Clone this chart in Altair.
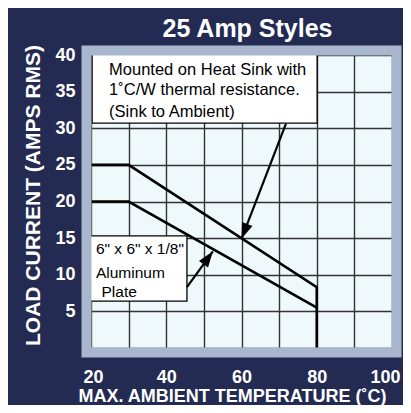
import altair as alt
import pandas as pd

# ---- data ----
hs_temp = [20, 30, 80, 80]
hs_amps = [25, 25, 8.3, 0]
pl_temp = [20, 30, 80]
pl_amps = [20, 20, 5.5]

x_ticks = [20, 30, 40, 50, 60, 70, 80, 90, 100]
y_ticks = [0, 5, 10, 15, 20, 25, 30, 35, 40]

note1_lines = ["Mounted on  Heat Sink with", "1˚C/W thermal resistance.", "(Sink to Ambient)"]
note2_lines = ["6\" x 6\" x 1/8\"", "Aluminum", " Plate"]

# annotation geometry in data units
note1_box = {"x": 20.3, "x2": 80.1, "y": 30.7, "y2": 40.1}
note2_box = {"x": 19.8, "x2": 45.5, "y": 6.4, "y2": 15.3}
note1_text_x = [24.8, 24.8, 24.8]
note1_text_y = [37.3, 34.55, 31.55]
note2_text_x = [21.3, 21.3, 22.8]
note2_text_y = [12.85, 9.6, 7.0]
arrow_x = [71.8, 45.5]
arrow_y = [30.6, 8.3]
arrow_tip_x = [60.0, 52.4]
arrow_tip_y = [14.9, 13.2]
arrow_angle = [201, 36]

FONT = "Arial, Liberation Sans, Helvetica, sans-serif"
W, H = 301, 293

curves = pd.DataFrame(
    [{"series": "heatsink", "o": i, "t": t, "a": a} for i, (t, a) in enumerate(zip(hs_temp, hs_amps))]
    + [{"series": "plate", "o": i, "t": t, "a": a} for i, (t, a) in enumerate(zip(pl_temp, pl_amps))]
)

xscale = alt.Scale(domain=[20, 100], nice=False, zero=False)
yscale = alt.Scale(domain=[0, 40], nice=False, zero=False)

xaxis = alt.Axis(
    values=x_ticks, tickCount=50, grid=True, gridColor="#333333", gridWidth=1.4, ticks=False, domain=False,
    labelExpr="datum.value % 20 == 0 ? datum.label : ''", labelFlush=True, labelFlushOffset=8,
    labelOverlap=False,
    labelFont=FONT, labelFontSize=18, labelFontWeight="bold", labelColor="white", labelPadding=20,
    title="MAX. AMBIENT TEMPERATURE (˚C)", titleFont=FONT, titleFontSize=18, titleFontWeight="bold",
    titleColor="white", titlePadding=1, titleX=141,
)
yaxis = alt.Axis(
    values=y_ticks, tickCount=50, grid=True, gridColor="#333333", gridWidth=1.4, ticks=False, domain=False,
    labelExpr="datum.value == 0 ? '' : datum.label", labelOverlap=False,
    labelFont=FONT, labelFontSize=18, labelFontWeight="bold", labelColor="white", labelPadding=16,
    title="LOAD CURRENT (AMPS RMS)", titleFont=FONT, titleFontSize=21, titleFontWeight="bold",
    titleColor="white", titlePadding=11, titleY=140,
)

lines = alt.Chart(curves).mark_line(color="black", strokeWidth=2.6, clip=False).encode(
    x=alt.X("t:Q", scale=xscale, axis=xaxis),
    y=alt.Y("a:Q", scale=yscale, axis=yaxis),
    detail="series:N",
    order="o:Q",
)

boxes = alt.Chart(pd.DataFrame([note1_box, note2_box])).mark_rect(
    fill="white", stroke="black", strokeWidth=1.3
).encode(x=alt.X("x:Q", scale=xscale), x2="x2", y=alt.Y("y:Q", scale=yscale), y2="y2")

t1 = alt.Chart(pd.DataFrame({"txt": note1_lines, "x": note1_text_x, "y": note1_text_y})).mark_text(
    align="left", baseline="alphabetic", font=FONT, fontSize=16.5, color="black"
).encode(x=alt.X("x:Q", scale=xscale), y=alt.Y("y:Q", scale=yscale), text="txt:N")

t2 = alt.Chart(pd.DataFrame({"txt": note2_lines, "x": note2_text_x, "y": note2_text_y})).mark_text(
    align="left", baseline="alphabetic", font=FONT, fontSize=15.5, color="black"
).encode(x=alt.X("x:Q", scale=xscale), y=alt.Y("y:Q", scale=yscale), text="txt:N")

arrows_df = pd.DataFrame({"x": arrow_x, "y": arrow_y, "tx": arrow_tip_x, "ty": arrow_tip_y, "ang": arrow_angle})
shafts = alt.Chart(arrows_df).mark_rule(color="black", strokeWidth=2.2).encode(
    x=alt.X("x:Q", scale=xscale), y=alt.Y("y:Q", scale=yscale), x2="tx", y2="ty"
)
heads = alt.Chart(arrows_df).mark_point(
    shape="M0,0L0.7,2L-0.7,2Z", filled=True, color="black", opacity=1, size=256
).encode(
    x=alt.X("tx:Q", scale=xscale), y=alt.Y("ty:Q", scale=yscale),
    angle=alt.Angle("ang:Q", scale=None),
)

frame = alt.Chart(pd.DataFrame({"k": [0]})).mark_rect(
    filled=False, stroke="#A9B7CE", strokeWidth=10
).encode(
    x=alt.value(-4.5), x2=alt.value(W + 4.5), y=alt.value(-4.5), y2=alt.value(H + 4.5)
)

chart = alt.layer(lines, boxes, t1, t2, shafts, heads, frame).properties(
    width=W, height=H,
    title=alt.TitleParams("25 Amp Styles", font=FONT, fontSize=25, fontWeight="bold",
                          color="white", anchor="middle", dx=6, offset=3),
    autosize=alt.AutoSizeParams(type="none"),
    padding={"left": 83, "top": 47, "right": 11, "bottom": 57},
    background="#232B52",
).configure_view(fill="#EFF9FC", stroke=None)

chart.save("out.html", embed_options={"renderer": "svg", "actions": False})
